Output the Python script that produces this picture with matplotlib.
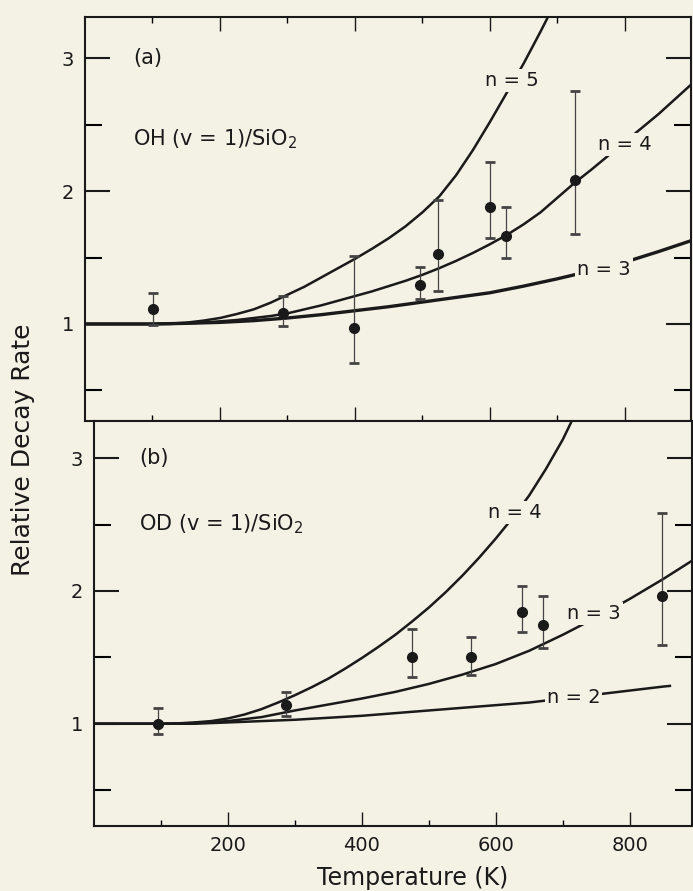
import matplotlib
matplotlib.use('Agg')
import matplotlib.pyplot as plt

# ---- data ----
# temperature grids (K) the model curves were read on
temp_coarse = [0, 50, 100, 150, 200, 250, 300, 350, 400, 450, 500,
               550, 600, 650, 700, 750, 800, 850, 900]
temp_fine = [0, 25, 50, 75, 100, 125, 150, 175, 200, 225, 250, 275, 300,
             325, 350, 375, 400, 425, 450, 475, 500, 525, 550, 575, 600,
             625, 650, 675, 700, 725, 750, 775, 800, 825, 850, 875, 900]

# model curves, panel (a) OH (v = 1)/SiO2
oh_n3 = [1.0, 1.0, 1.0, 1.005, 1.012, 1.025, 1.045, 1.07, 1.10, 1.13, 1.165,
         1.20, 1.235, 1.285, 1.34, 1.40, 1.465, 1.545, 1.63]
oh_n4 = [1.0, 1.0, 1.0, 1.0, 1.0, 1.0, 1.005, 1.01, 1.02, 1.03, 1.045, 1.06,
         1.08, 1.11, 1.14, 1.175, 1.21, 1.245, 1.285, 1.325, 1.37, 1.42,
         1.475, 1.535, 1.60, 1.67, 1.75, 1.84, 1.95, 2.06, 2.16, 2.265,
         2.37, 2.475, 2.58, 2.695, 2.81]
oh_n5 = [1.0, 1.0, 1.0, 1.0, 1.0, 1.003, 1.01, 1.025, 1.045, 1.075, 1.11,
         1.16, 1.22, 1.28, 1.35, 1.42, 1.49, 1.565, 1.645, 1.735, 1.84, 1.96,
         2.12, 2.31, 2.52, 2.74, 2.96, 3.20, 3.45]

# measured points, panel (a)
oh_temp = [101, 293, 399, 496, 523, 600, 624, 726]
oh_rate = [1.11, 1.08, 0.97, 1.29, 1.53, 1.88, 1.66, 2.08]
oh_low = [0.99, 0.985, 0.71, 1.19, 1.25, 1.65, 1.50, 1.68]
oh_high = [1.23, 1.21, 1.51, 1.43, 1.93, 2.22, 1.88, 2.75]

# model curves, panel (b) OD (v = 1)/SiO2
od_n2_temp = [0, 50, 100, 150, 200, 250, 300, 350, 400, 450, 500,
              550, 600, 650, 700, 750, 800, 850, 860]
od_n2 = [1.0, 1.0, 1.0, 1.0, 1.01, 1.02, 1.03, 1.045, 1.06, 1.08, 1.10,
         1.12, 1.14, 1.16, 1.19, 1.22, 1.25, 1.28, 1.285]
od_n3 = [1.0, 1.0, 1.0, 1.005, 1.02, 1.05, 1.10, 1.145, 1.19, 1.24, 1.30,
         1.37, 1.45, 1.55, 1.67, 1.80, 1.94, 2.09, 2.25]
od_n4 = [1.0, 1.0, 1.0, 1.0, 1.0, 1.003, 1.01, 1.02, 1.04, 1.07, 1.11,
         1.16, 1.215, 1.275, 1.34, 1.415, 1.495, 1.58, 1.67, 1.77, 1.875,
         1.99, 2.115, 2.25, 2.395, 2.55, 2.72, 2.92, 3.14, 3.40]

# measured points, panel (b)
od_temp = [96, 286, 475, 563, 639, 670, 848]
od_rate = [1.00, 1.14, 1.50, 1.50, 1.84, 1.74, 1.96]
od_low = [0.92, 1.06, 1.35, 1.37, 1.69, 1.57, 1.59]
od_high = [1.12, 1.24, 1.71, 1.65, 2.04, 1.96, 2.59]

BG = '#f4f1e5'
INK = '#1a1a1a'
W, H = 693, 891

fig = plt.figure(figsize=(W / 100, H / 100), dpi=100, facecolor=BG)
# the scan is slightly rotated, so the two panels do not share a left edge
ax_a = fig.add_axes([85 / W, 1 - 421 / H, (691 - 85) / W, (421 - 17) / H])
ax_b = fig.add_axes([94 / W, 1 - 826 / H, (692 - 94) / W, (826 - 421) / H])


def style_axes(ax, ylim, xlim, bottom_labels):
    ax.set_facecolor(BG)
    ax.set_xlim(*xlim)
    ax.set_ylim(*ylim)
    for sp in ax.spines.values():
        sp.set_linewidth(1.5)
        sp.set_color(INK)
    ax.set_yticks([1, 2, 3])
    ax.set_yticks([0.5, 1.5, 2.5], minor=True)
    ax.set_xticks([200, 400, 600, 800])
    ax.set_xticks([100, 300, 500, 700], minor=True)
    ax.tick_params(axis='y', which='major', direction='in', length=18, width=1.5,
                   left=True, right=True, labelsize=14, pad=8, colors=INK)
    ax.tick_params(axis='y', which='minor', direction='in', length=12, width=1.5,
                   left=True, right=True)
    ax.tick_params(axis='x', which='major', direction='in', length=10, width=1.0,
                   top=not bottom_labels, bottom=True, labelbottom=bottom_labels,
                   labelsize=14, pad=7, colors=INK)
    ax.tick_params(axis='x', which='minor', direction='in', length=4, width=1.0,
                   top=not bottom_labels, bottom=True)


def curve_label(ax, x, y, s):
    ax.text(x, y, s, fontsize=14, ha='center', va='center', color=INK, zorder=5,
            bbox=dict(facecolor=BG, edgecolor='none', pad=1.5))


def draw_points(ax, temps, rates, lows, highs):
    yerr = [[r - lo for r, lo in zip(rates, lows)],
            [hi - r for r, hi in zip(rates, highs)]]
    ax.errorbar(temps, rates, yerr=yerr, fmt='o', color=INK, ms=7,
                ecolor='#444444', elinewidth=0.9, capsize=3.8, capthick=2.0,
                zorder=4)


# panel (a)
style_axes(ax_a, (0.27, 3.31), (0, 898), False)
ax_a.plot(temp_coarse, oh_n3, color=INK, lw=2.4, zorder=2)
ax_a.plot(temp_fine, oh_n4, color=INK, lw=1.8, zorder=2)
ax_a.plot(temp_fine[:len(oh_n5)], oh_n5, color=INK, lw=1.8, zorder=2)
draw_points(ax_a, oh_temp, oh_rate, oh_low, oh_high)
curve_label(ax_a, 633, 2.83, 'n = 5')
curve_label(ax_a, 800, 2.35, 'n = 4')
curve_label(ax_a, 769, 1.41, 'n = 3')
ax_a.text(71, 3.0, '(a)', fontsize=15, ha='left', va='center', color=INK)
ax_a.text(71, 2.39, 'OH (v = 1)/SiO$_2$', fontsize=15, ha='left', va='center',
          color=INK)

# panel (b)
style_axes(ax_b, (0.23, 3.28), (0, 893), True)
ax_b.plot(od_n2_temp, od_n2, color=INK, lw=1.8, zorder=2)
ax_b.plot(temp_coarse, od_n3, color=INK, lw=1.8, zorder=2)
ax_b.plot(temp_fine[:len(od_n4)], od_n4, color=INK, lw=1.8, zorder=2)
draw_points(ax_b, od_temp, od_rate, od_low, od_high)
curve_label(ax_b, 628, 2.59, 'n = 4')
curve_label(ax_b, 746, 1.83, 'n = 3')
curve_label(ax_b, 716, 1.195, 'n = 2')
ax_b.text(67, 3.0, '(b)', fontsize=15, ha='left', va='center', color=INK)
ax_b.text(67, 2.50, 'OD (v = 1)/SiO$_2$', fontsize=15, ha='left', va='center',
          color=INK)

ax_b.set_xlabel('Temperature (K)', fontsize=17, color=INK)
ax_b.xaxis.set_label_coords(0.532, -0.10)
fig.text(23 / W, 1 - 450 / H, 'Relative Decay Rate', rotation=90, fontsize=18,
         ha='center', va='center', color=INK)

fig.savefig('out.png', dpi=100, facecolor=BG)
